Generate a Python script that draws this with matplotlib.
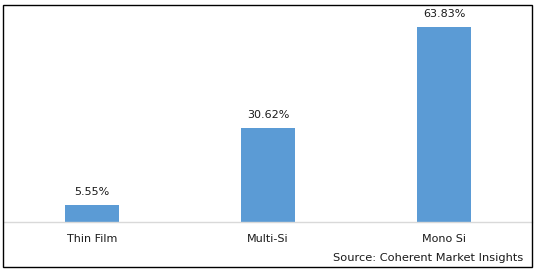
import matplotlib
matplotlib.use("Agg")
import matplotlib.pyplot as plt
from matplotlib.patches import Rectangle

categories = ["Thin Film", "Multi-Si", "Mono Si"]
values = [5.55, 30.62, 63.83]
labels = ["5.55%", "30.62%", "63.83%"]

W, H = 538, 272
fig = plt.figure(figsize=(W / 100, H / 100), dpi=100)
fig.patch.set_facecolor("white")

ax = fig.add_axes([4 / W, (H - 222) / H, 528 / W, 214 / H])
x = range(len(categories))
ax.bar(x, values, width=0.31, color="#5B9BD5")
ax.set_xlim(-0.5, 2.5)
ax.set_ylim(0, 70)
for s in ["top", "right", "left"]:
    ax.spines[s].set_visible(False)
ax.spines["bottom"].set_color("#D9D9D9")
ax.spines["bottom"].set_linewidth(1.0)
ax.set_yticks([])
ax.set_xticks(list(x))
ax.set_xticklabels(categories, fontsize=8, color="#1a1a1a", family="DejaVu Sans")
ax.tick_params(axis="x", length=0, pad=9)
for xi, v, lab in zip(x, values, labels):
    ax.annotate(lab, (xi, v), xytext=(0, 6), textcoords="offset points",
                ha="center", va="bottom", fontsize=8, color="#1a1a1a")

fig.text(523 / W, (H - 258) / H, "Source: Coherent Market Insights", ha="right",
         va="center", fontsize=8.2, color="#1a1a1a")
fig.add_artist(Rectangle((2.5 / W, (H - 267) / H), 529 / W, 262 / H,
                         transform=fig.transFigure, fill=False,
                         edgecolor="black", linewidth=1.0))

fig.savefig("out.png", dpi=100)
